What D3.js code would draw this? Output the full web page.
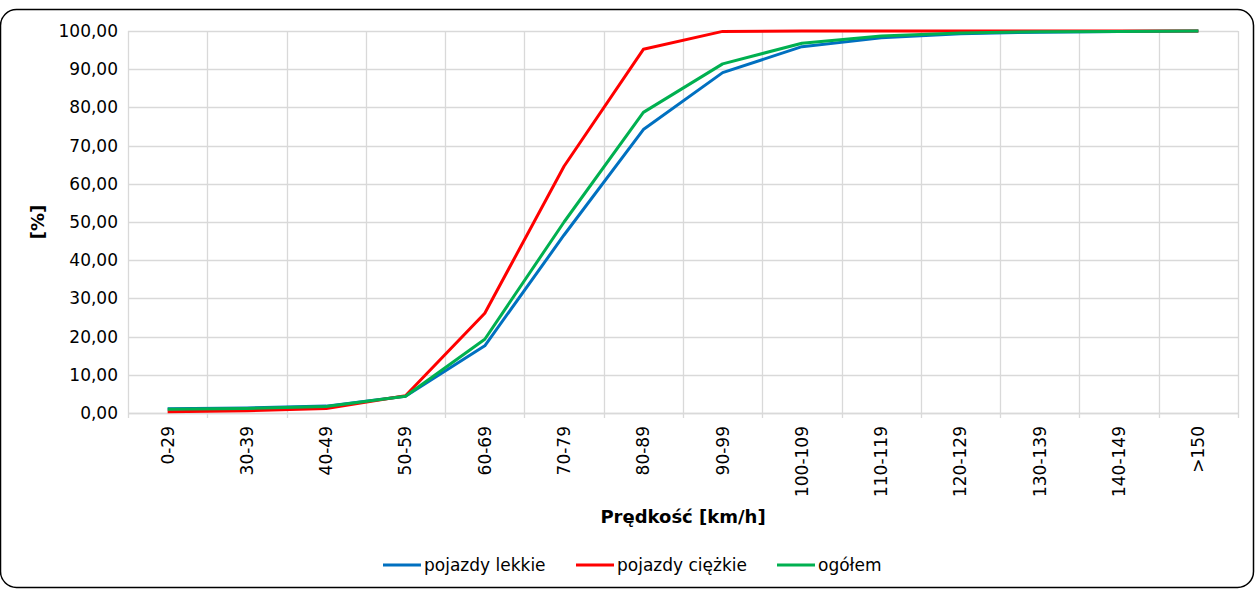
<!DOCTYPE html>
<html>
<head>
<meta charset="utf-8">
<script src="https://cdn.jsdelivr.net/npm/d3@7"></script>
<style>
  body { margin: 0; background: #fff; }
  text { font-family: "DejaVu Sans", Verdana, sans-serif; fill: #000; }
</style>
</head>
<body>
<div id="chart"></div>
<script>
var svgWidth = 1255;
var svgHeight = 590;

var margin = { top: 31, right: 17, bottom: 177, left: 128 };
var width = svgWidth - margin.left - margin.right;
var height = svgHeight - margin.top - margin.bottom;

// data
var categories = ["0-29", "30-39", "40-49", "50-59", "60-69", "70-79", "80-89",
  "90-99", "100-109", "110-119", "120-129", "130-139", "140-149", ">150"];
var lekkie = [1.1, 1.3, 1.8, 4.4, 17.6, 46.6, 74.2, 89.1, 95.9, 98.2, 99.3, 99.7, 99.9, 100];
var ciezkie = [0.3, 0.6, 1.2, 4.5, 26.1, 64.6, 95.2, 99.9, 100, 100, 100, 100, 100, 100];
var ogolem = [1.0, 1.2, 1.7, 4.4, 19.3, 50.0, 78.7, 91.4, 96.8, 98.7, 99.5, 99.8, 99.9, 100];
var yTicks = [0, 10, 20, 30, 40, 50, 60, 70, 80, 90, 100];

var series = [
  { name: "pojazdy lekkie", values: lekkie, color: "#0070c0" },
  { name: "pojazdy ciężkie", values: ciezkie, color: "#ff0000" },
  { name: "ogółem", values: ogolem, color: "#00b050" }
];

var svg = d3.select("#chart")
  .append("svg")
  .attr("width", svgWidth)
  .attr("height", svgHeight);

// outer rounded border
svg.append("rect")
  .attr("x", 0.5)
  .attr("y", 9.5)
  .attr("width", svgWidth - 2)
  .attr("height", 578)
  .attr("rx", 16)
  .attr("fill", "#fff")
  .attr("stroke", "#000")
  .attr("stroke-width", 1.5);

var chartGroup = svg.append("g")
  .attr("transform", `translate(${margin.left}, ${margin.top})`);

var xScale = d3.scaleBand()
  .domain(categories)
  .range([0, width])
  .padding(0);

var yScale = d3.scaleLinear()
  .domain([0, 100])
  .range([height, 0]);

var fmt = function(d) { return d3.format(".2f")(d).replace(".", ","); };

// horizontal gridlines
chartGroup.append("g")
  .selectAll("line")
  .data(yTicks)
  .enter()
  .append("line")
  .attr("x1", 0)
  .attr("x2", width)
  .attr("y1", d => Math.round(yScale(d)) + 0.5)
  .attr("y2", d => Math.round(yScale(d)) + 0.5)
  .attr("stroke", "#d9d9d9")
  .attr("stroke-width", 1.3);

// vertical gridlines at band edges
var edges = categories.map(c => xScale(c)).concat([width]);
chartGroup.append("g")
  .selectAll("line")
  .data(edges)
  .enter()
  .append("line")
  .attr("x1", d => Math.round(d) + 0.5)
  .attr("x2", d => Math.round(d) + 0.5)
  .attr("y1", 0)
  .attr("y2", height + 5)
  .attr("stroke", "#d9d9d9")
  .attr("stroke-width", 1.3);

// y axis labels
var leftAxis = d3.axisLeft(yScale)
  .tickValues(yTicks)
  .tickFormat(fmt)
  .tickSize(0)
  .tickPadding(10);

var yAxis = chartGroup.append("g").call(leftAxis);
yAxis.select(".domain").remove();
yAxis.selectAll("text")
  .style("font-size", "17px")
  .style("font-family", "DejaVu Sans, Verdana, sans-serif");

// x axis
var bottomAxis = d3.axisBottom(xScale).tickSize(0).tickPadding(0);
var xAxis = chartGroup.append("g")
  .attr("transform", `translate(0, ${height})`)
  .call(bottomAxis);
xAxis.select(".domain")
  .attr("stroke", "#d9d9d9")
  .attr("stroke-width", 1.5);
xAxis.selectAll("text")
  .attr("transform", "rotate(-90)")
  .attr("x", -13)
  .attr("y", 0)
  .attr("dy", "0.35em")
  .style("text-anchor", "end")
  .style("font-size", "17px")
  .style("font-family", "DejaVu Sans, Verdana, sans-serif");

// lines
var line = d3.line()
  .x((d, i) => xScale(categories[i]) + xScale.bandwidth() / 2)
  .y(d => yScale(d));

chartGroup.selectAll(".series")
  .data(series)
  .enter()
  .append("path")
  .attr("class", "series")
  .attr("d", d => line(d.values))
  .attr("fill", "none")
  .attr("stroke", d => d.color)
  .attr("stroke-width", 3)
  .attr("stroke-linejoin", "round");

// axis titles
svg.append("text")
  .attr("x", margin.left + width / 2)
  .attr("y", 523)
  .attr("text-anchor", "middle")
  .style("font-size", "18px")
  .style("font-weight", "bold")
  .text("Prędkość [km/h]");

svg.append("text")
  .attr("transform", "rotate(-90)")
  .attr("x", -222)
  .attr("y", 44)
  .attr("text-anchor", "middle")
  .style("font-size", "18px")
  .style("font-weight", "bold")
  .text("[%]");

// legend
var legendX = [383, 576, 777];
var legend = svg.append("g").selectAll("g")
  .data(series)
  .enter()
  .append("g")
  .attr("transform", (d, i) => `translate(${legendX[i]}, 565)`);

legend.append("line")
  .attr("x1", 0)
  .attr("x2", 38)
  .attr("y1", 0)
  .attr("y2", 0)
  .attr("stroke", d => d.color)
  .attr("stroke-width", 3);

legend.append("text")
  .attr("x", 41)
  .attr("y", 0)
  .attr("dy", "0.35em")
  .style("font-size", "17px")
  .text(d => d.name);
</script>
</body>
</html>
